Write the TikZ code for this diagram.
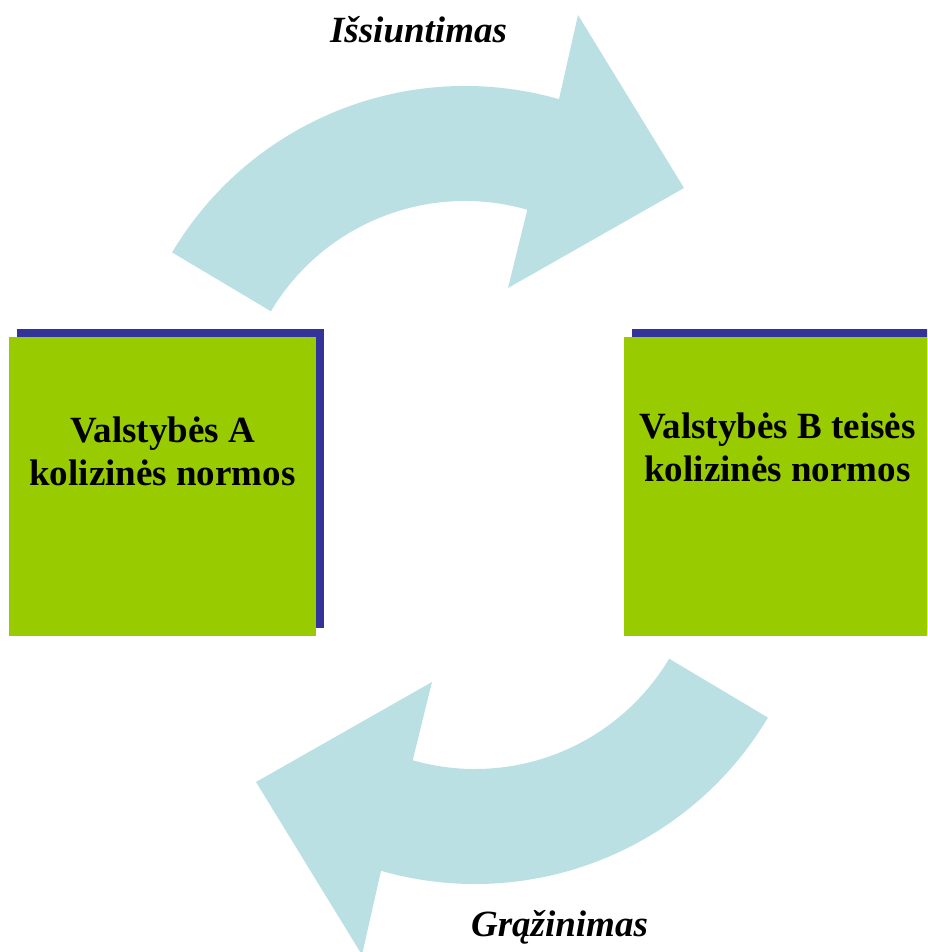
\documentclass[tikz,border=0pt]{standalone}
\usepackage{fontspec}
\setmainfont{Liberation Serif}
\usepackage{xcolor}
\usepackage{tikz}
\usetikzlibrary{positioning, shadows}

\definecolor{arrowblue}{RGB}{186,224,227}
\definecolor{boxgreen}{RGB}{153,204,0}
\definecolor{shadowblue}{RGB}{51,51,153}

\begin{document}
\begin{tikzpicture}[
  x=0.5pt, y=0.5pt,
  every node/.style = {font=\fontsize{18.5pt}{21.5pt}\selectfont\bfseries},
  greenbox/.style   = {rectangle, fill=boxgreen, inner sep=0pt, outer sep=0pt,
                       minimum width=153.5pt, minimum height=149.5pt,
                       general shadow={fill=shadowblue, shadow xshift=4pt,
                                       shadow yshift=4pt}},
  boxtext/.style    = {align=center, inner sep=0pt},
  flowlabel/.style  = {font=\fontsize{18.5pt}{21.5pt}\selectfont\bfseries\itshape,
                       anchor=base, inner sep=0pt}
]
\useasboundingbox (0,0) rectangle (927,952);
\clip (0,0) rectangle (927,952);

% --- Curved arrows (top: to the right, bottom: back to the left) ---
\foreach \cx/\cy/\rot in {465/525/0, 475/409/180} {
  \fill[arrowblue, shift={(\cx,\cy)}, rotate=\rot]
    (149.2:341) arc[start angle=149.2, end angle=74, radius=341]
    -- (113,412) -- (219,239) -- (43,139)
    -- (74:226) arc[start angle=74, end angle=149.2, radius=226] -- cycle;
}

% --- Boxes ---
\node[greenbox]                   (boxA) at (162.5,465.5) {};
\node[greenbox, right=154pt of boxA] (boxB) {};

\node[boxtext, below=39.5pt of boxA.north] (textA) {Valstybės A\\kolizinės normos};
\node[boxtext, below=37.5pt of boxB.north] (textB) {Valstybės B teisės\\kolizinės normos};

% --- Labels ---
\node[flowlabel] (send)   at (418.5,909) {Išsiuntimas};
\node[flowlabel] (return) at (559.5,15)  {Grąžinimas};

\end{tikzpicture}
\end{document}
